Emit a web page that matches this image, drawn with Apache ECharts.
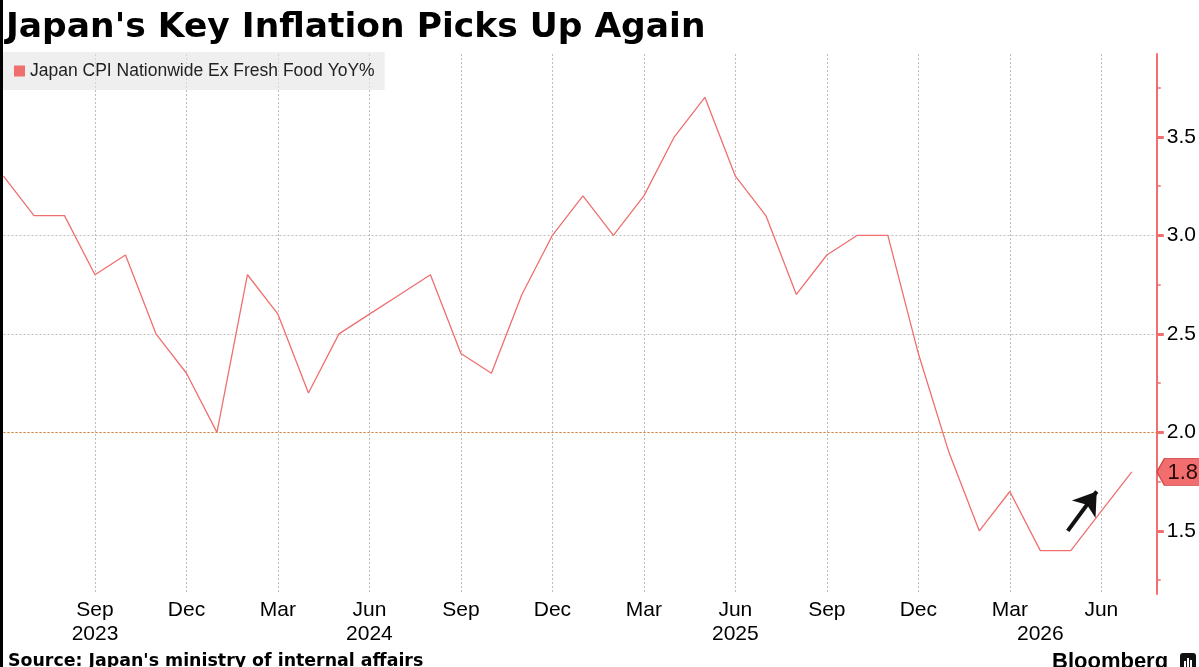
<!DOCTYPE html>
<html>
<head>
<meta charset="utf-8">
<script src="https://cdn.jsdelivr.net/npm/echarts@6/dist/echarts.min.js"></script>
<style>
  html, body { margin: 0; padding: 0; background: #fff; }
  #chart { width: 1199px; height: 667px; }
</style>
</head>
<body>
<div id="chart"></div>
<script>
// months on the x axis (Jun 2023 - Jul 2026)
var months = [
  '2023-06','2023-07','2023-08','2023-09','2023-10','2023-11','2023-12',
  '2024-01','2024-02','2024-03','2024-04','2024-05','2024-06','2024-07','2024-08','2024-09','2024-10','2024-11','2024-12',
  '2025-01','2025-02','2025-03','2025-04','2025-05','2025-06','2025-07','2025-08','2025-09','2025-10','2025-11','2025-12',
  '2026-01','2026-02','2026-03','2026-04','2026-05','2026-06','2026-07'
];
// Japan CPI nationwide ex fresh food, YoY %
var cpiCore = [
  3.3, 3.1, 3.1, 2.8, 2.9, 2.5, 2.3,
  2.0, 2.8, 2.6, 2.2, 2.5, 2.6, 2.7, 2.8, 2.4, 2.3, 2.7, 3.0,
  3.2, 3.0, 3.2, 3.5, 3.7, 3.3, 3.1, 2.7, 2.9, 3.0, 3.0, 2.4,
  1.9, 1.5, 1.7, 1.4, 1.4, 1.6, 1.8
];
var seriesName = 'Japan CPI Nationwide Ex Fresh Food YoY%';
var monthNames = ['Jan','Feb','Mar','Apr','May','Jun','Jul','Aug','Sep','Oct','Nov','Dec'];
var yTicks = [1.5, 2.0, 2.5, 3.0, 3.5];
var yMinorTicks = [1.25, 1.75, 2.25, 2.75, 3.25, 3.75];
var targetLine = 2.0;            // 2% line
var arrowFrom = [34.9, 1.5];     // annotation arrow (month index, value)
var arrowTo = [35.85, 1.7];

var xMax = 37.82;
var yMin = 1.18, yMax = 3.92;
var red = '#ef6f6f';
var font = 'Liberation Sans';
var boldFont = 'DejaVu Sans';

// year label goes to the middle of the months visible in that year
var yearCenters = [];
var yearText = {};
var first = 0;
for (var i = 1; i <= months.length; i++) {
  if (i == months.length || months[i].substring(0, 4) != months[first].substring(0, 4)) {
    var c = Math.floor((first + i - 1) / 2);
    yearCenters.push(c);
    yearText[c] = months[first].substring(0, 4);
    first = i;
  }
}

var data = [];
for (var i = 0; i < cpiCore.length; i++) {
  data.push([i, cpiCore[i]]);
}
var last = cpiCore[cpiCore.length - 1];

var chart = echarts.init(document.getElementById('chart'));
var option = {
  animation: false,
  backgroundColor: '#fff',
  textStyle: { fontFamily: font },
  title: {
    text: "Japan's Key Inflation Picks Up Again",
    left: 6, top: 11, padding: 0,
    textStyle: { fontSize: 34.5, fontWeight: 'bold', color: '#000', fontFamily: boldFont }
  },
  legend: {
    data: [seriesName],
    left: 3, top: 52,
    padding: [10, 10, 10, 11],
    backgroundColor: 'rgba(228,228,228,0.6)',
    icon: 'rect',
    itemWidth: 11, itemHeight: 11,
    textStyle: { fontSize: 17.5, color: '#222', fontFamily: font }
  },
  grid: { left: 3.5, right: 41, top: 54, bottom: 73, containLabel: false },
  xAxis: [{
    type: 'value',
    min: 0, max: xMax, interval: 3,
    axisLine: { show: false },
    axisTick: { show: false },
    splitLine: { show: true, showMinLine: false, showMaxLine: false, lineStyle: { color: '#bdbdbd', type: [2, 2], width: 1 } },
    axisLabel: {
      margin: 6, fontSize: 21, color: '#000',
      showMinLabel: false, showMaxLabel: false,
      formatter: function (v) {
        var k = Math.round(v);
        if (Math.abs(v - k) > 0.01 || !months[k]) return '';
        return monthNames[parseInt(months[k].substring(5), 10) - 1];
      }
    }
  }, {
    type: 'value',
    position: 'bottom',
    min: 0, max: xMax,
    axisLine: { show: false },
    axisTick: { show: false },
    splitLine: { show: false },
    axisLabel: {
      customValues: yearCenters,
      margin: 30, fontSize: 21, color: '#000',
      formatter: function (v) { return yearText[Math.round(v)] || ''; }
    }
  }],
  yAxis: [{
    type: 'value',
    position: 'right',
    min: yMin, max: yMax,
    axisLine: { show: true, onZero: false, lineStyle: { color: red, width: 2 } },
    axisTick: { show: true, customValues: yTicks, length: 7, lineStyle: { color: red, width: 3 } },
    splitLine: { show: true, showMinLine: false, showMaxLine: false, lineStyle: { color: '#bdbdbd', type: [2, 2], width: 1 } },
    axisLabel: {
      customValues: yTicks,
      margin: 10, fontSize: 21, color: '#000',
      formatter: function (v) { return v.toFixed(1); }
    }
  }, {
    type: 'value',
    position: 'right',
    min: yMin, max: yMax,
    axisLine: { show: false, onZero: false },
    axisTick: { show: true, customValues: yMinorTicks, length: 4, lineStyle: { color: red, width: 1.5 } },
    splitLine: { show: false },
    axisLabel: { show: false }
  }],
  series: [{
    name: seriesName,
    type: 'line',
    data: data,
    symbol: 'none',
    color: red,
    lineStyle: { width: 1.3, color: red },
    markLine: {
      silent: true,
      symbol: ['none', 'none'],
      label: { show: false },
      data: [
        { yAxis: targetLine, lineStyle: { color: '#d9822b', type: [2, 2], width: 1 } },
        [
          { coord: arrowFrom, symbol: 'none', lineStyle: { color: '#111', width: 4, type: 'solid' } },
          { coord: arrowTo, symbol: 'arrow', symbolSize: 22 }
        ]
      ]
    },
    markPoint: {
      silent: true,
      symbol: 'path://M0,10 L8,0 L60,0 L60,20 L8,20 Z',
      symbolKeepAspect: false,
      symbolSize: [58, 27],
      symbolOffset: [29, 0],
      itemStyle: { color: '#f26e6e', borderColor: '#c94a4a', borderWidth: 1 },
      label: {
        show: true, position: 'inside', offset: [-3, 1],
        fontSize: 22, color: '#2a0a0a', fontFamily: font,
        formatter: function (p) { return p.value.toFixed(1); }
      },
      data: [{ coord: [xMax, last], value: last }]
    }
  }],
  graphic: [
    { type: 'rect', left: 0, top: 0, shape: { width: 3, height: 667 }, style: { fill: '#000' }, z: 100 },
    { type: 'text', left: 8, top: 653, style: { text: "Source: Japan's ministry of internal affairs", font: 'bold 17.4px "DejaVu Sans"', fill: '#000' } },
    { type: 'text', left: 1052, top: 651, style: { text: 'Bloomberg', font: 'bold 22px "Liberation Sans"', fill: '#000' } },
    { type: 'rect', left: 1180, top: 653, shape: { width: 16, height: 18, r: 3 }, style: { fill: '#111' } },
    { type: 'rect', left: 1184, top: 661, shape: { width: 2, height: 6 }, style: { fill: '#fff' }, z: 10 },
    { type: 'rect', left: 1187, top: 658, shape: { width: 2, height: 9 }, style: { fill: '#fff' }, z: 10 },
    { type: 'rect', left: 1190, top: 660, shape: { width: 2, height: 7 }, style: { fill: '#fff' }, z: 10 }
  ]
};
chart.setOption(option);
</script>
</body>
</html>
